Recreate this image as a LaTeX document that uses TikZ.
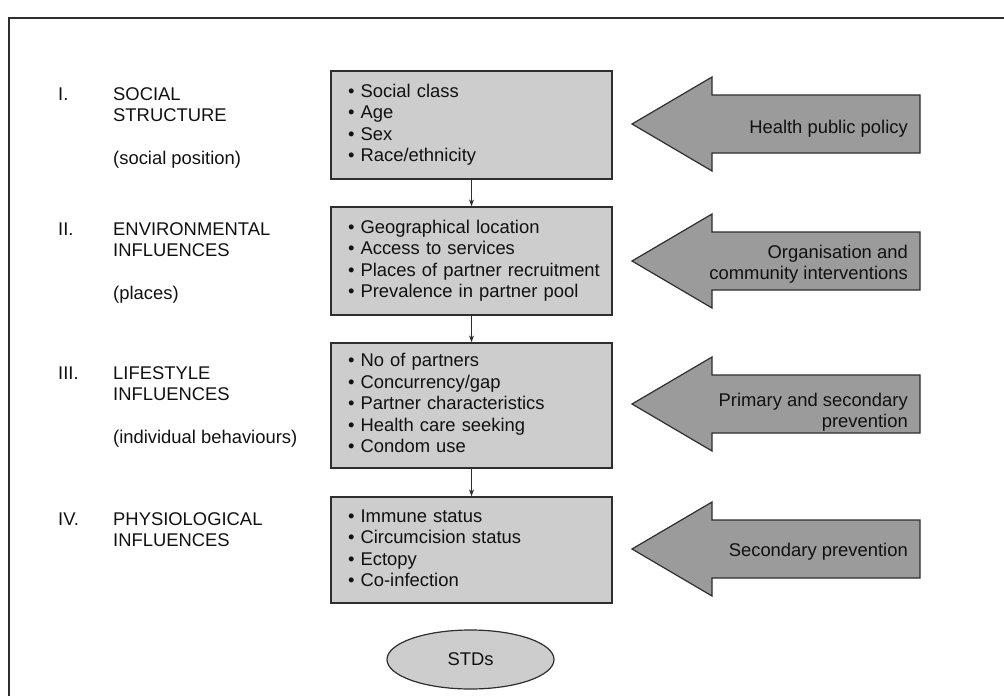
\documentclass[tikz,border=0pt]{standalone}
\usepackage{fontspec}
\setmainfont{Liberation Sans}
\usetikzlibrary{arrows.meta,shapes.geometric}
\definecolor{boxfill}{HTML}{CDCDCD}
\definecolor{arrfill}{HTML}{9B9B9B}
\definecolor{edge}{HTML}{2E2E2E}
\definecolor{ink}{HTML}{111111}
\newcommand{\diagfont}{\fontsize{18.4}{21.5}\selectfont}
\newcommand{\itemlist}[1]{\begin{tabular}{@{}l@{}}#1\end{tabular}}
\begin{document}
\begin{tikzpicture}[x=1pt,y=-1pt,
  every node/.style={font=\diagfont, text=ink},
  factorbox/.style={draw=edge, line width=1.3pt, fill=boxfill, text width=247pt,
    inner xsep=17pt, inner ysep=0pt, align=left},
  lbl/.style={anchor=base west, inner sep=0pt},
  arrtext/.style={anchor=base east, inner sep=0pt},
  blockarrow/.style={draw=edge, line width=1.2pt, fill=arrfill, line join=miter},
  conn/.style={draw=edge, line width=1pt, -{Stealth[length=7pt,width=5pt]}},
  frame/.style={draw=edge, line width=1.3pt}
]
\useasboundingbox (0,0) rectangle (1004,696);
% outer frame (only left and top edges visible)
\draw[frame] (9,696) -- (9,18) -- (1004,18);

% left labels
\node[lbl] (l1) at (58,100) {\begin{tabular}[t]{@{}p{55pt}@{}l@{}}I.&SOCIAL\\&STRUCTURE\\&\\&(social position)\end{tabular}};
\node[lbl] (l2) at (58,235) {\begin{tabular}[t]{@{}p{55pt}@{}l@{}}II.&ENVIRONMENTAL\\&INFLUENCES\\&\\&(places)\end{tabular}};
\node[lbl] (l3) at (58,379) {\begin{tabular}[t]{@{}p{55pt}@{}l@{}}III.&LIFESTYLE\\&INFLUENCES\\&\\&(individual behaviours)\end{tabular}};
\node[lbl] (l4) at (58,525) {\begin{tabular}[t]{@{}p{55pt}@{}l@{}}IV.&PHYSIOLOGICAL\\&INFLUENCES\end{tabular}};

% factor boxes
\node[factorbox, minimum height=108pt] (b1) at (471.5,125) {\itemlist{\textbullet\ Social class\\\textbullet\ Age\\\textbullet\ Sex\\\textbullet\ Race/ethnicity}};
\node[factorbox, minimum height=108pt] (b2) at (471.5,261) {\itemlist{\textbullet\ Geographical location\\\textbullet\ Access to services\\\textbullet\ Places of partner recruitment\\\textbullet\ Prevalence in partner pool}};
\node[factorbox, minimum height=125pt] (b3) at (471.5,405.5) {\itemlist{\textbullet\ No of partners\\\textbullet\ Concurrency/gap\\\textbullet\ Partner characteristics\\\textbullet\ Health care seeking\\\textbullet\ Condom use}};
\node[factorbox, minimum height=106pt] (b4) at (471.5,550) {\itemlist{\textbullet\ Immune status\\\textbullet\ Circumcision status\\\textbullet\ Ectopy\\\textbullet\ Co-infection}};

% outcome
\node[ellipse, draw=edge, line width=1.2pt, fill=boxfill, minimum width=167pt, minimum height=59pt] (std) at (470.5,659.5) {STDs};

% connectors
\draw[conn] (b1.south) -- (b2.north);
\draw[conn] (b2.south) -- (b3.north);
\draw[conn] (b3.south) -- (b4.north);

% block arrows (interventions)
\foreach \cy in {124, 261, 404, 549}{
  \draw[blockarrow] (632,\cy) -- (712,\cy-47) -- (712,\cy-29) -- (920,\cy-29)
    -- (920,\cy+29) -- (712,\cy+29) -- (712,\cy+47) -- cycle;
}
\node[arrtext] (t1) at (908,133) {Health public policy};
\node[arrtext] (t2) at (908,258) {\begin{tabular}[t]{@{}r@{}}Organisation and\\community interventions\end{tabular}};
\node[arrtext] (t3) at (908,406) {\begin{tabular}[t]{@{}r@{}}Primary and secondary\\prevention\end{tabular}};
\node[arrtext] (t4) at (908,556) {Secondary prevention};
\end{tikzpicture}
\end{document}
